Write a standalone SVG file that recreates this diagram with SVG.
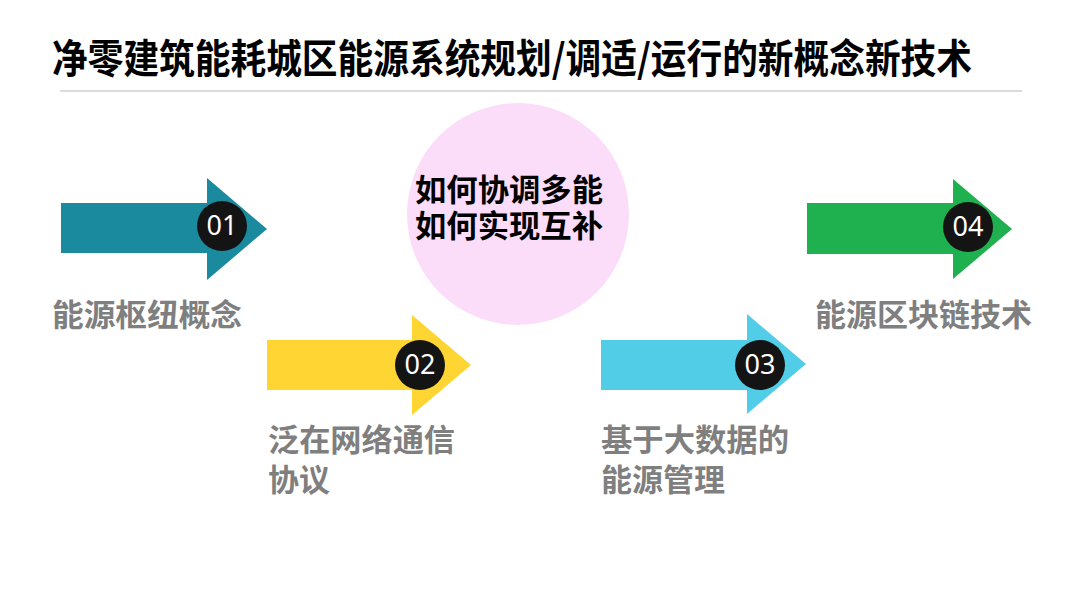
<svg xmlns="http://www.w3.org/2000/svg" width="1080" height="608" viewBox="0 0 1080 608">
<style>
.title{font-family:"Noto Sans CJK SC","Liberation Sans",sans-serif;font-weight:700;font-size:36px;fill:#000}
.lbl{font-family:"Noto Sans CJK SC","Liberation Sans",sans-serif;font-weight:700;font-size:31px;fill:#7f7f7f}
.ctr{font-family:"Noto Sans CJK SC","Liberation Sans",sans-serif;font-weight:700;font-size:31px;fill:#000}
.num{font-family:"Noto Sans","Liberation Sans",sans-serif;font-size:27px;fill:#fff;text-anchor:middle}
.badge{fill:#141414}
</style>
<rect width="1080" height="608" fill="#fff"/>
<text class="title" transform="scale(1,1.1)" x="52" y="66.4" textLength="920" lengthAdjust="spacingAndGlyphs">净零建筑能耗城区能源系统规划/调适/运行的新概念新技术</text>
<line x1="60" y1="91" x2="1022" y2="91" stroke="#cfcfcf" stroke-width="1.5"/>
<g id="center">
<circle cx="518" cy="214" r="111" fill="#fcddf9"/>
<text class="ctr" x="415" y="201" textLength="188" lengthAdjust="spacingAndGlyphs">如何协调多能</text>
<text class="ctr" x="415" y="237" textLength="188" lengthAdjust="spacingAndGlyphs">如何实现互补</text>
</g>
<g id="n01">
<polygon points="61,203 207,203 207,178 267,229 207,280 207,253 61,253" fill="#1a8a9e"/>
<circle class="badge" cx="222" cy="226" r="25"/>
<text class="num" x="222" y="235">01</text>
<text class="lbl" x="52" y="326" textLength="190" lengthAdjust="spacingAndGlyphs">能源枢纽概念</text>
</g>
<g id="n02">
<polygon points="267,340 412,340 412,315 471,365 412,415 412,390 267,390" fill="#fed533"/>
<circle class="badge" cx="420" cy="365" r="25"/>
<text class="num" x="420" y="374">02</text>
<text class="lbl" x="268" y="451" textLength="187" lengthAdjust="spacingAndGlyphs">泛在网络通信</text>
<text class="lbl" x="268" y="491">协议</text>
</g>
<g id="n03">
<polygon points="601,340 747,340 747,314 806,364 747,414 747,390 601,390" fill="#52cde7"/>
<circle class="badge" cx="760" cy="365" r="25"/>
<text class="num" x="760" y="374">03</text>
<text class="lbl" x="601" y="451" textLength="188" lengthAdjust="spacingAndGlyphs">基于大数据的</text>
<text class="lbl" x="601" y="491">能源管理</text>
</g>
<g id="n04">
<polygon points="807,203 953,203 953,179 1012,229 953,279 953,254 807,254" fill="#1fb050"/>
<circle class="badge" cx="968" cy="227" r="25"/>
<text class="num" x="968" y="236">04</text>
<text class="lbl" x="815" y="326" textLength="217" lengthAdjust="spacingAndGlyphs">能源区块链技术</text>
</g>
<g id="connectors"/>
</svg>
